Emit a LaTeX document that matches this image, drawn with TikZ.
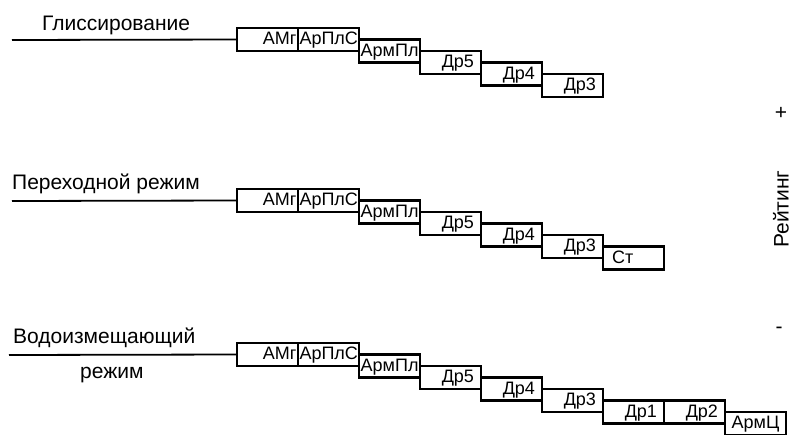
\documentclass[tikz,border=0pt]{standalone}
\usepackage{fontspec}
\setmainfont{Liberation Sans}
\usetikzlibrary{positioning}

\begin{document}
\begin{tikzpicture}[
	x=1pt, y=1pt,
	node distance=0pt,
	blk/.style={
		rectangle,
		draw,
		line width=2.8pt,
		outer sep=0pt,
		minimum width=61pt,
		minimum height=23pt,
		text width=58pt,
		align=right,
		inner xsep=1.5pt,
		text height=13pt,
		text depth=3pt,
		font=\fontsize{18}{18}\selectfont
	},
	drb/.style={
		blk,
		text width=47pt,
		inner xsep=7pt
	},
	mid/.style={
		blk,
		align=center
	},
	title/.style={
		inner sep=0pt,
		font=\fontsize{21}{21}\selectfont
	},
	base/.style={
		line width=1.8pt
	}
	]
	\useasboundingbox (0,0) rectangle (792,-434);
	
	% Row 1: Glissirovanie
	\node[title, anchor=base west] (t1) at (42,-30) {Глиссирование};
	\coordinate (s1) at (12,-40);
	\node[blk, anchor=north west] (a1) at (237,-28) {АМг};
	\node[blk, right=of a1] (b1) {АрПлС};
	\node[blk, anchor=north west] (c1) at (b1.east) {АрмПл};
	\node[drb, anchor=north west] (d1) at (c1.east) {Др5};
	\node[drb, anchor=north west] (e1) at (d1.east) {Др4};
	\node[drb, anchor=north west] (f1) at (e1.east) {Др3};
	\draw[base] (s1) -- (a1.west);
	
	% Row 2: Perekhodnoy rezhim
	\node[title, anchor=base west] (t2) at (12,-189) {Переходной режим};
	\coordinate (s2) at (12,-201);
	\node[blk, anchor=north west] (a2) at (237,-189) {АМг};
	\node[blk, right=of a2] (b2) {АрПлС};
	\node[blk, anchor=north west] (c2) at (b2.east) {АрмПл};
	\node[drb, anchor=north west] (d2) at (c2.east) {Др5};
	\node[drb, anchor=north west] (e2) at (d2.east) {Др4};
	\node[drb, anchor=north west] (f2) at (e2.east) {Др3};
	\node[drb, align=left, inner xsep=9pt, text width=43pt, anchor=north west] (g2) at (f2.east) {Ст};
	\draw[base] (s2) -- (a2.west);
	
	% Row 3: Vodoizmeshchayushchiy rezhim
	\node[title, anchor=base west] (t3) at (13,-343) {Водоизмещающий};
	\node[title, anchor=base west] (u3) at (80,-378) {режим};
	\coordinate (s3) at (9,-355);
	\node[blk, anchor=north west] (a3) at (237,-343) {АМг};
	\node[blk, right=of a3] (b3) {АрПлС};
	\node[blk, anchor=north west] (c3) at (b3.east) {АрмПл};
	\node[drb, anchor=north west] (d3) at (c3.east) {Др5};
	\node[drb, anchor=north west] (e3) at (d3.east) {Др4};
	\node[drb, anchor=north west] (f3) at (e3.east) {Др3};
	\node[drb, anchor=north west] (g3) at (f3.east) {Др1};
	\node[drb, right=of g3] (h3) {Др2};
	\node[mid, anchor=north west] (i3) at (h3.east) {АрмЦ};
	\draw[base] (s3) -- (a3.west);
	
	% Rating scale
	\node[title] (plus) at (781,-113) {+};
	\node[title, rotate=90] (rate) at (781,-209) {Рейтинг};
	\node[title] (minus) at (779,-330) {-};
	
\end{tikzpicture}
\end{document}
